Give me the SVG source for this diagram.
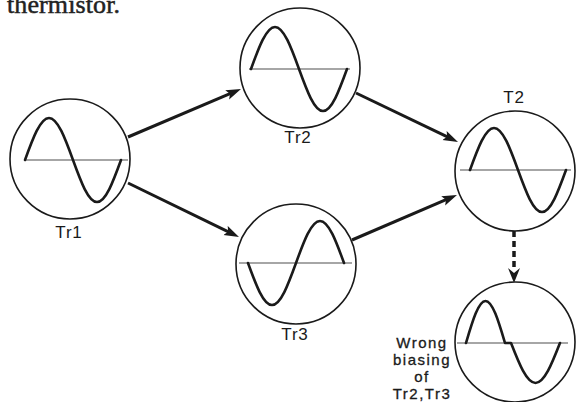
<svg xmlns="http://www.w3.org/2000/svg" width="576" height="402" viewBox="0 0 576 402">
<defs>
<style>
.scope{fill:#fff;stroke:#1a1a1a;stroke-width:1.6}
.axis{stroke:#888;stroke-width:1.5;fill:none}
.wave{stroke:#1a1a1a;stroke-width:2.6;fill:none;stroke-linejoin:round;stroke-linecap:round}
.lbl{font-family:"Liberation Sans",Arial,sans-serif;font-size:17px;fill:#1a1a1a;text-anchor:middle;letter-spacing:0.8px}
.note{font-family:"Liberation Sans",Arial,sans-serif;font-size:15px;fill:#1a1a1a;text-anchor:middle;letter-spacing:1.5px;stroke:#1a1a1a;stroke-width:0.3}
.conn{stroke:#1a1a1a;stroke-width:3;fill:none}
.dash{stroke:#1a1a1a;stroke-width:3.5;fill:none;stroke-dasharray:6 4}
</style>
<marker id="ah" markerUnits="userSpaceOnUse" markerWidth="16" markerHeight="11" refX="5" refY="5" orient="auto" viewBox="0 0 16 10">
<path d="M0,0 L15,5 L0,10 L3,5 Z" fill="#1a1a1a"/>
</marker>
</defs>
<rect width="576" height="402" fill="#fff"/>
<text x="7" y="13" font-family="'Liberation Serif','Times New Roman',serif" font-size="26" fill="#222" stroke="#222" stroke-width="0.5" textLength="113">thermistor.</text>

<g id="connectors">
<line class="conn" x1="128" y1="137" x2="231.8" y2="92.9" marker-end="url(#ah)"/>
<line class="conn" x1="128" y1="183" x2="230" y2="232.6" marker-end="url(#ah)"/>
<line class="conn" x1="356" y1="93" x2="449" y2="137.7" marker-end="url(#ah)"/>
<line class="conn" x1="352" y1="240" x2="447.8" y2="198.9" marker-end="url(#ah)"/>
<line class="dash" x1="514" y1="231" x2="514" y2="270"/>
<polygon points="508,268 514,273 520,268 514,283" fill="#1a1a1a"/>
</g>

<g id="Tr1">
<circle class="scope" cx="70" cy="159" r="60"/>
<line class="axis" x1="24" y1="160" x2="128" y2="160"/>
<path class="wave" d="M25,160 C32.8,138.5 40.3,118 49,118 C57.7,118 65.2,138.5 73,160 C80.8,181.5 88.3,202 97,202 C105.7,202 113.2,181.5 121,160"/>
<text class="lbl" x="69" y="238">Tr1</text>
</g>

<g id="Tr2">
<circle class="scope" cx="300" cy="68" r="60"/>
<line class="axis" x1="249" y1="69" x2="350" y2="69"/>
<path class="wave" d="M251,69 C258.8,47.5 266.3,27 275,27 C283.7,27 291.2,47.5 299,69 C306.8,90.5 314.3,111 323,111 C331.7,111 339.2,90.5 347,69"/>
<text class="lbl" x="298" y="143">Tr2</text>
</g>

<g id="Tr3">
<circle class="scope" cx="296" cy="264" r="60"/>
<line class="axis" x1="239" y1="263" x2="352" y2="263"/>
<path class="wave" d="M248,263 C255.8,284.5 263.3,305 272,305 C280.7,305 288.2,284.5 296,263 C303.8,241.5 311.3,221 320,221 C328.7,221 336.2,241.5 344,263"/>
<text class="lbl" x="295" y="340">Tr3</text>
</g>

<g id="T2">
<circle class="scope" cx="515" cy="171" r="60"/>
<line class="axis" x1="460" y1="170" x2="571" y2="170"/>
<path class="wave" d="M470,170 C477.8,148.5 485.3,128 494,128 C502.7,128 510.2,148.5 518,170 C525.8,191.5 533.3,212 542,212 C550.7,212 558.2,191.5 566,170"/>
<text class="lbl" x="514" y="103">T2</text>
</g>

<g id="Wrong">
<circle class="scope" cx="515" cy="342" r="60"/>
<line class="axis" x1="457" y1="343" x2="568" y2="343"/>
<path class="wave" d="M466,343 C472.4,321.5 478.4,301 485.5,301 C492.6,301 498.6,321.5 505,343 L511,343 C519,363.5 526.6,383 535.5,383 C544.4,383 552,363.5 560,343"/>
<text class="note" x="422" y="348">Wrong</text>
<text class="note" x="422" y="365">biasing</text>
<text class="note" x="422" y="382">of</text>
<text class="note" x="422" y="399">Tr2,Tr3</text>
</g>
</svg>
